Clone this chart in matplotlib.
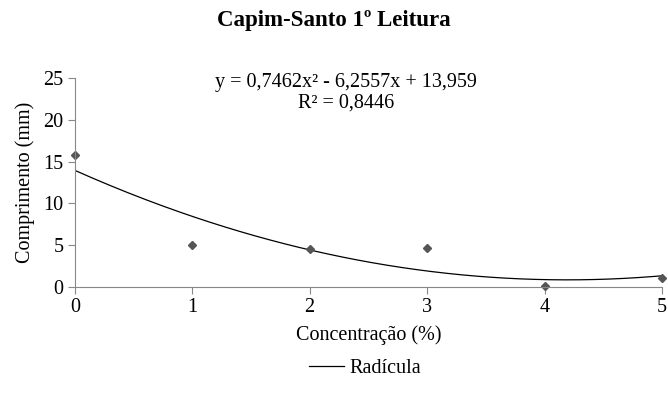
import matplotlib.pyplot as plt
import numpy as np

plt.rcParams['font.family'] = ['Liberation Serif', 'DejaVu Serif']

# dados
concentracao = [0, 1, 2, 3, 4, 5]
comprimento = [15.8, 5.0, 4.5, 4.7, 0.1, 1.1]
# coeficientes da linha de tendencia (polinomial grau 2)
coefs = [0.7462, -6.2557, 13.959]

fig = plt.figure(figsize=(6.68, 4.07), dpi=100)
ax = fig.add_axes([0.112, 0.295, 0.879, 0.513])

xs = np.linspace(0, 5, 200)
ax.plot(xs, np.polyval(coefs, xs), color='black', lw=0.9, label='Radícula')
ax.plot(concentracao, comprimento, 'D', color='#555555', ms=4, clip_on=False)

ax.set_xlim(0, 5)
ax.set_ylim(0, 25)
ax.set_xticks(concentracao)
ax.set_yticks([0, 5, 10, 15, 20, 25])
for s in ['top', 'right']:
    ax.spines[s].set_visible(False)
for s in ['left', 'bottom']:
    ax.spines[s].set_color('#888888')
ax.tick_params(direction='out', length=5, color='#888888', labelsize=14.5, pad=3)

ax.set_xlabel('Concentração (%)', fontsize=14.5, labelpad=6)
ax.set_ylabel('Comprimento (mm)', fontsize=14.5, labelpad=6)

fig.suptitle('Capim-Santo 1º Leitura', fontsize=16.5, fontweight='bold', y=0.975)

ax.text(0.462, 0.93, 'y = 0,7462x² - 6,2557x + 13,959\nR² = 0,8446',
        transform=ax.transAxes, ha='center', va='center', fontsize=14.5,
        linespacing=1.15)

fig.legend(loc='center', bbox_to_anchor=(0.547, 0.095), frameon=False,
           fontsize=14.5, handlelength=1.7, handletextpad=0.3)

fig.savefig('out.png', dpi=100)
